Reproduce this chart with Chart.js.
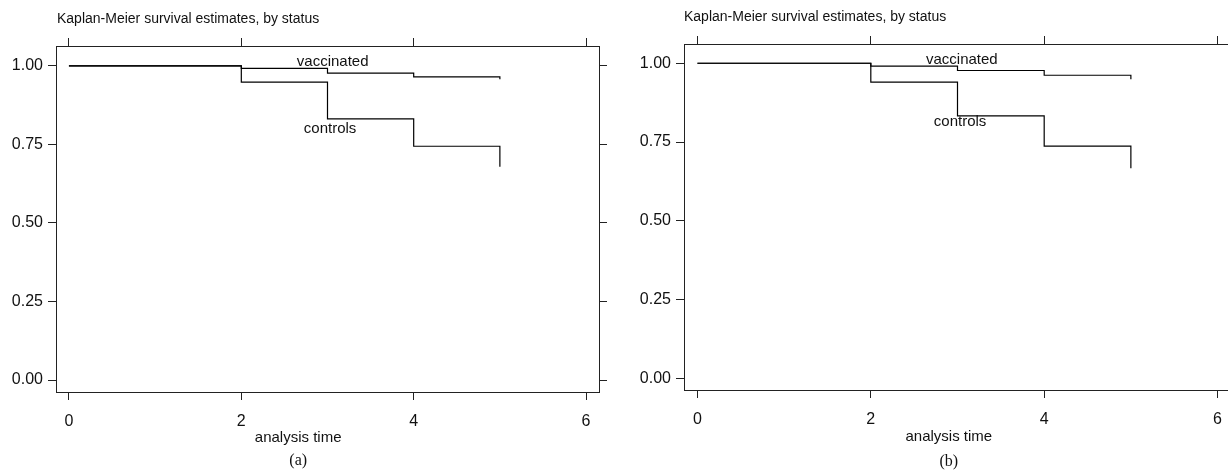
<!DOCTYPE html>
<html>
<head>
<meta charset="utf-8">
<script src="https://cdn.jsdelivr.net/npm/chart.js@4/dist/chart.umd.min.js"></script>
<style>
  html, body { margin: 0; padding: 0; background: #fff; overflow: hidden; }
  body { width: 1228px; height: 471px; position: relative; }
  .panel { position: absolute; top: 0; height: 471px; }
  #panelA { left: 0; width: 614px; }
  #panelB { left: 614px; width: 630px; }
</style>
</head>
<body>
<div class="panel" id="panelA"><canvas id="chartA"></canvas></div>
<div class="panel" id="panelB"><canvas id="chartB"></canvas></div>
<script>
// == data ==
const times = [0, 2, 3, 4, 5];
const vaccinatedA = [1.000, 0.992, 0.977, 0.965, 0.957];
const controlsA   = [1.000, 0.948, 0.831, 0.744, 0.679];
const vaccinatedB = [1.000, 0.991, 0.977, 0.962, 0.949];
const controlsB   = [1.000, 0.940, 0.833, 0.737, 0.667];
const xTicks = [0, 2, 4, 6];
const yTicks = [0, 0.25, 0.5, 0.75, 1];

const titleText = "Kaplan-Meier survival estimates, by status";
const xTitle = "analysis time";
const FONT = "'Liberation Sans', Arial, Helvetica, sans-serif";

function toPoints(ys) {
    return times.map((t, i) => ({ x: t, y: ys[i] }));
}

// free text: title, curve labels, axis title, (a)/(b) caption
const textPlugin = {
    id: "kmText",
    afterDraw(chart, args, o) {
        const c = chart.ctx;
        const xs = chart.scales.x, ys = chart.scales.y;
        c.save();
        c.fillStyle = "#111";
        c.textBaseline = "middle";
        c.font = "14px " + FONT;
        c.textAlign = "left";
        c.fillText(titleText, o.titleX, o.titleY);
        c.font = "15px " + FONT;
        c.textAlign = "center";
        o.labels.forEach(l => c.fillText(l.text, xs.getPixelForValue(l.x), ys.getPixelForValue(l.y)));
        c.fillText(xTitle, xs.getPixelForValue(o.axisTitleX), o.axisTitleY);
        c.font = "16px 'Liberation Serif', 'Times New Roman', serif";
        c.fillText(o.caption, xs.getPixelForValue(o.axisTitleX), o.captionY);
        c.restore();
    }
};

function makeChart(id, vacc, ctrl, cfg) {
    const fixTicks = vals => s => { s.ticks = vals.map(v => ({ value: v })); };
    const axisBase = {
        grid: { drawOnChartArea: false, color: "#222", tickLength: 8, tickWidth: 1 },
        border: { display: true, color: "#222", width: 1 },
    };
    return new Chart(document.getElementById(id), {
        type: "line",
        data: {
            datasets: [
                { label: "vaccinated", data: toPoints(vacc), stepped: "before", borderColor: "#000", borderWidth: 1.2, pointRadius: 0, fill: false },
                { label: "controls", data: toPoints(ctrl), stepped: "before", borderColor: "#000", borderWidth: 1.2, pointRadius: 0, fill: false },
            ]
        },
        options: {
            responsive: true,
            maintainAspectRatio: false,
            animation: false,
            layout: { padding: 0 },
            plugins: {
                legend: { display: false },
                tooltip: { enabled: false },
                kmText: cfg.text,
            },
            scales: {
                x: {
                    ...axisBase, type: "linear", position: "bottom",
                    min: cfg.xMin, max: cfg.xMax,
                    afterBuildTicks: fixTicks(xTicks),
                    afterFit: s => { s.height = cfg.bottom; },
                    ticks: { color: "#111", font: { family: FONT, size: 16 }, padding: 12, maxRotation: 0 },
                },
                x2: {
                    ...axisBase, type: "linear", position: "top",
                    min: cfg.xMin, max: cfg.xMax,
                    afterBuildTicks: fixTicks(xTicks),
                    afterFit: s => { s.height = cfg.top; },
                    ticks: { display: false },
                },
                y: {
                    ...axisBase, type: "linear", position: "left",
                    min: cfg.yMin, max: cfg.yMax,
                    afterBuildTicks: fixTicks(yTicks),
                    afterFit: s => { s.width = cfg.left; },
                    ticks: { color: "#111", font: { family: FONT, size: 16 }, padding: 5, callback: v => v.toFixed(2) },
                },
                y2: {
                    ...axisBase, type: "linear", position: "right",
                    min: cfg.yMin, max: cfg.yMax,
                    afterBuildTicks: fixTicks(yTicks),
                    afterFit: s => { s.width = cfg.right; },
                    ticks: { display: false },
                },
            }
        },
        plugins: [textPlugin]
    });
}

makeChart("chartA", vaccinatedA, controlsA, {
    left: 56, right: 15, top: 46, bottom: 79,
    xMin: -0.15, xMax: 6.15, yMin: -0.038, yMax: 1.063,
    text: {
        titleX: 57, titleY: 19,
        labels: [ { text: "vaccinated", x: 3.06, y: 1.011 }, { text: "controls", x: 3.03, y: 0.798 } ],
        axisTitleX: 2.66, axisTitleY: 438, caption: "(a)", captionY: 461,
    }
});

makeChart("chartB", vaccinatedB, controlsB, {
    left: 70, right: 13, top: 44, bottom: 81,
    xMin: -0.155, xMax: 6.155, yMin: -0.036, yMax: 1.061,
    text: {
        titleX: 70, titleY: 17,
        labels: [ { text: "vaccinated", x: 3.05, y: 1.010 }, { text: "controls", x: 3.03, y: 0.815 } ],
        axisTitleX: 2.9, axisTitleY: 437, caption: "(b)", captionY: 462,
    }
});
</script>
</body>
</html>
